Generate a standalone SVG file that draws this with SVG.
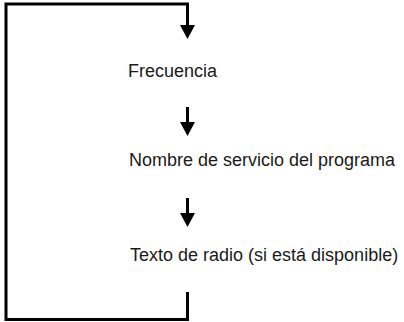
<svg xmlns="http://www.w3.org/2000/svg" width="404" height="322" viewBox="0 0 404 322">
<style>
.ln{fill:none;stroke:#000;stroke-width:3;stroke-linejoin:miter;stroke-linecap:butt}
.hd{fill:#000}
.tx{font-family:"Liberation Sans",Arial,sans-serif;font-size:18px;fill:#1a1a1a}
</style>
<rect width="404" height="322" fill="#fff"/>
<g id="connectors">
<polyline class="ln" points="187.5,292 187.5,319.5 6,319.5 6,4 187.5,4 187.5,26"/>
<polygon class="hd" points="180,25 195,25 187.5,39"/>
<line class="ln" x1="187.5" y1="107" x2="187.5" y2="123"/>
<polygon class="hd" points="180,122 195,122 187.5,136"/>
<line class="ln" x1="187.5" y1="198" x2="187.5" y2="214"/>
<polygon class="hd" points="180,213 195,213 187.5,227"/>
</g>
<g id="frecuencia"><text class="tx" x="128" y="77">Frecuencia</text></g>
<g id="nombre"><text class="tx" x="129" y="166">Nombre de servicio del programa</text></g>
<g id="texto"><text class="tx" x="130" y="261">Texto de radio (si está disponible)</text></g>
</svg>
